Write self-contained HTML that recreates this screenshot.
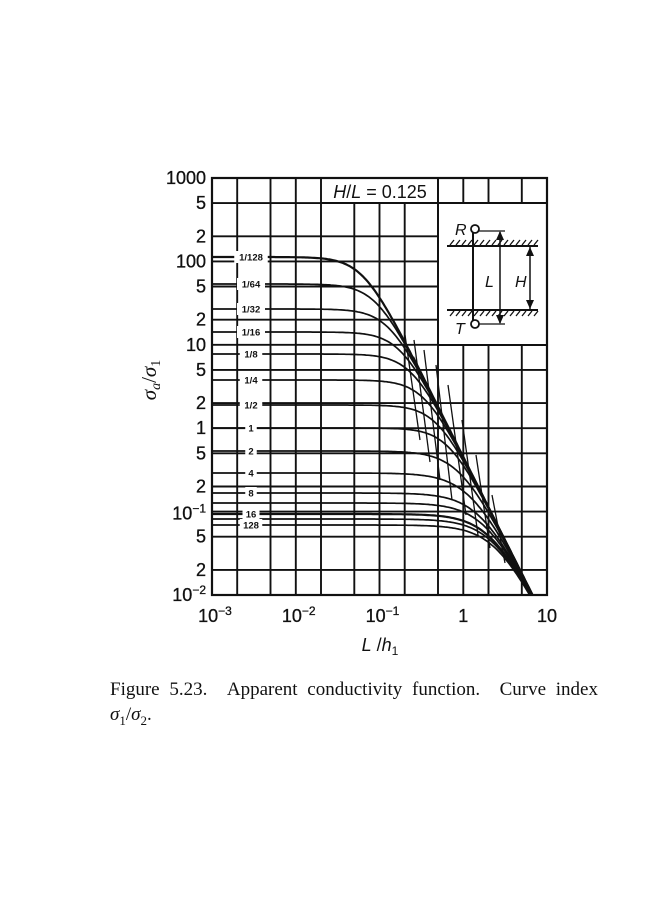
<!DOCTYPE html>
<html><head><meta charset="utf-8"><style>
html,body{margin:0;padding:0;background:#fff;}
body{width:650px;height:900px;position:relative;overflow:hidden;}
svg{position:absolute;left:0;top:0;}
.cap{position:absolute;left:110px;font-family:"Liberation Serif",serif;font-size:19px;color:#111;white-space:nowrap;}
</style></head><body>
<svg id="s" width="650" height="900" xmlns="http://www.w3.org/2000/svg" font-family="Liberation Sans, sans-serif"></svg>
<div class="cap" style="top:679px;word-spacing:5px;">Figure 5.23. &nbsp;Apparent conductivity function. &nbsp;Curve index</div>
<div class="cap" style="top:704px;"><i>σ</i><sub style="font-size:13px">1</sub>/<i>σ</i><sub style="font-size:13px">2</sub>.</div>
<script>
const s=document.getElementById('s');
const X0=212,X1=547,Y0=178,Y1=595;
const px=l=>X0+(l+3)*(X1-X0)/4;
const py=l=>Y1-(l+2)*(Y1-Y0)/5;
let h='';
const mul=[1,2,5];
for(let d=-3;d<=1;d++)for(const m of mul){const l=d+Math.log10(m);if(l>1.001)continue;const x=px(l).toFixed(1);h+=`<line x1="${x}" y1="${Y0}" x2="${x}" y2="${Y1}" stroke="#111" stroke-width="1.9"/>`;}
for(let d=-2;d<=3;d++)for(const m of mul){const l=d+Math.log10(m);if(l>3.001)continue;const y=py(l).toFixed(1);h+=`<line x1="${X0}" y1="${y}" x2="${X1}" y2="${y}" stroke="#111" stroke-width="1.9"/>`;}
h+=`<rect x="323" y="179" width="114" height="23" fill="#fff"/>`;
h+=`<rect x="439" y="204" width="107" height="140" fill="#fff"/>`;
h+=`<line x1="438" y1="178" x2="438" y2="345" stroke="#111" stroke-width="1.9"/>`;
h+=`<line x1="438" y1="345" x2="547" y2="345" stroke="#111" stroke-width="1.9"/>`;
h+=`<line x1="322" y1="203" x2="547" y2="203" stroke="#111" stroke-width="1.9"/>`;
h+=`<text x="380" y="198" font-size="18" text-anchor="middle" fill="#111"><tspan font-style="italic">H</tspan>/<tspan font-style="italic">L</tspan> = 0.125</text>`;
const invY=y=>(Y1-y)*5/(Y1-Y0)-2;
const curves=[[257,'1/128'],[284,'1/64'],[309,'1/32'],[332,'1/16'],[354,'1/8'],[380,'1/4'],[405,'1/2'],[428,'1'],[451,'2'],[473,'4'],[493,'8'],[503,''],[514,'16'],[519,''],[525,'128']];
let clip=`<clipPath id="c"><rect x="${X0}" y="${Y0}" width="${X1-X0}" height="${Y1-Y0}"/></clipPath>`;
let paths='';
curves.forEach(([y0,lab],i)=>{
  const L=Math.pow(10,invY(y0));
  const p=L>=1?1.3:(L>=0.4?1.1:1);
  const xc=Math.sqrt(0.45/L);
  let d='';
  for(let l=-3;l<=1.01;l+=0.02){
    const x=Math.pow(10,l);
    const v=L/Math.pow(1+Math.pow(x/xc,2*p),1/p);
    d+=(d?'L':'M')+px(l).toFixed(1)+','+py(Math.log10(v)).toFixed(1);
  }
  paths+=`<path d="${d}" fill="none" stroke="#111" stroke-width="${i==0||i==12?2.2:1.7}"/>`;
});
let de='';for(let l=-0.6;l<=1.01;l+=0.02){const v=0.45*Math.pow(10,-2*l);de+=(de?'L':'M')+px(l).toFixed(1)+','+py(Math.log10(v)).toFixed(1);}
paths+=`<path d="${de}" fill="none" stroke="#111" stroke-width="2.4"/>`;
const br=[[405,335,420,440],[414,340,430,462],[424,350,440,480],[436,365,452,500],[448,385,466,515],[462,420,478,535],[476,455,490,548],[492,495,505,563]];
br.forEach(b=>paths+=`<line x1="${b[0]}" y1="${b[1]}" x2="${b[2]}" y2="${b[3]}" stroke="#111" stroke-width="1.3"/>`);
h=clip+h+`<g clip-path="url(#c)">${paths}</g>`;
curves.forEach(([y0,lab])=>{if(lab){const w=lab.length*5.5+6;h+=`<rect x="${251-w/2}" y="${y0-6}" width="${w}" height="12" fill="#fff"/><text x="251" y="${y0+3.5}" font-size="9.5" font-weight="bold" text-anchor="middle" fill="#111">${lab}</text>`;}});
h+=`<rect x="${X0}" y="${Y0}" width="${X1-X0}" height="${Y1-Y0}" fill="none" stroke="#111" stroke-width="2.2"/>`;
h+=`<line x1="473" y1="228" x2="473" y2="324" stroke="#111" stroke-width="2"/>`;
h+=`<circle cx="475" cy="229" r="4" fill="#fff" stroke="#111" stroke-width="1.8"/><circle cx="475" cy="324" r="4" fill="#fff" stroke="#111" stroke-width="1.8"/>`;
h+=`<line x1="447" y1="246" x2="538" y2="246" stroke="#111" stroke-width="2"/><line x1="447" y1="310" x2="538" y2="310" stroke="#111" stroke-width="2"/>`;
for(let x=450;x<538;x+=6){h+=`<line x1="${x}" y1="245" x2="${x+4}" y2="240" stroke="#111" stroke-width="1.3"/><line x1="${x}" y1="316" x2="${x+4}" y2="311" stroke="#111" stroke-width="1.3"/>`;}
h+=`<line x1="479" y1="231" x2="505" y2="231" stroke="#111" stroke-width="1.3"/><line x1="479" y1="324" x2="505" y2="324" stroke="#111" stroke-width="1.3"/>`;
h+=`<line x1="500" y1="232" x2="500" y2="323" stroke="#111" stroke-width="1.5"/><path d="M496,240 L500,231 L504,240Z M496,315 L500,324 L504,315Z" fill="#111"/>`;
h+=`<line x1="530" y1="247" x2="530" y2="309" stroke="#111" stroke-width="1.5"/><path d="M526,256 L530,247 L534,256Z M526,300 L530,309 L534,300Z" fill="#111"/>`;
h+=`<text x="455" y="235" font-size="16" font-style="italic" fill="#111">R</text><text x="485" y="287" font-size="16" font-style="italic" fill="#111">L</text><text x="515" y="287" font-size="16" font-style="italic" fill="#111">H</text><text x="455" y="334" font-size="16" font-style="italic" fill="#111">T</text>`;
const yl=[[3,'1000'],[2.699,'5'],[2.301,'2'],[2,'100'],[1.699,'5'],[1.301,'2'],[1,'10'],[0.699,'5'],[0.301,'2'],[0,'1'],[-0.301,'5'],[-0.699,'2'],[-1.301,'5'],[-1.699,'2']];
yl.forEach(([l,t])=>h+=`<text x="206" y="${(py(l)+6).toFixed(1)}" font-size="18" text-anchor="end" fill="#111" stroke="#111" stroke-width="0.3">${t}</text>`);
h+=`<text x="206" y="${(py(-1)+8).toFixed(1)}" font-size="18" text-anchor="end" fill="#111" stroke="#111" stroke-width="0.3">10<tspan font-size="12" dy="-7">−1</tspan></text>`;
h+=`<text x="206" y="${(py(-2)+6).toFixed(1)}" font-size="18" text-anchor="end" fill="#111" stroke="#111" stroke-width="0.3">10<tspan font-size="12" dy="-7">−2</tspan></text>`;
[[-3,'10','−3'],[-2,'10','−2'],[-1,'10','−1'],[0,'1',''],[1,'10','']].forEach(([l,t,e])=>h+=`<text x="${px(l)+(e?3:0)}" y="622" font-size="18" text-anchor="middle" fill="#111" stroke="#111" stroke-width="0.3">${t}${e?`<tspan font-size="12" dy="-7">${e}</tspan>`:''}</text>`);
h+=`<text x="380" y="651" font-size="18" text-anchor="middle" fill="#111"><tspan font-style="italic">L</tspan> /<tspan font-style="italic">h</tspan><tspan font-size="12" dy="4">1</tspan></text>`;
h+=`<text transform="translate(156,380) rotate(-90)" font-size="21" text-anchor="middle" fill="#111" font-family="Liberation Serif, serif"><tspan font-style="italic">σ</tspan><tspan font-size="14" dy="4" font-style="italic">a</tspan><tspan dy="-4">/</tspan><tspan font-style="italic">σ</tspan><tspan font-size="14" dy="4">1</tspan></text>`;
s.innerHTML=h;
</script>
</body></html>
